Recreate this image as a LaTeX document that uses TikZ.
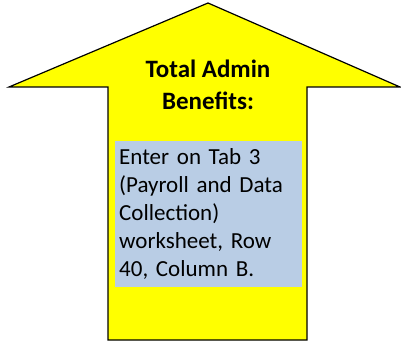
\documentclass[tikz,border=0pt]{standalone}
\usepackage{fontspec}
\setmainfont{Carlito}
\definecolor{arrowyellow}{HTML}{FFFF00}
\definecolor{boxblue}{HTML}{B9CDE5}
\tikzset{
  arrowshape/.style={draw=black, fill=arrowyellow, line width=1.2pt, line join=miter},
  titletext/.style={font=\bfseries\fontsize{25}{32}\selectfont, align=center, inner sep=0pt},
  infobox/.style={fill=boxblue, anchor=north west, minimum width=187pt, minimum height=146pt,
    text width=179pt, inner xsep=4pt, inner ysep=0pt, align=left, font=\fontsize{23}{28}\selectfont}
}
\begin{document}
\begin{tikzpicture}[x=1pt,y=1pt]
\useasboundingbox (0,0) rectangle (401,343);
\draw[arrowshape] (208,340) -- (400,256) -- (307,256) -- (307,3) -- (108,3) -- (108,256) -- (9,256) -- cycle;
\node[titletext] (title) at (208,258) {Total Admin\\Benefits:};
\node[infobox] (info) at (115,202) {Enter on Tab 3\\(Payroll and Data\\Collection)\\worksheet, Row\\40, Column B.};
\end{tikzpicture}
\end{document}
